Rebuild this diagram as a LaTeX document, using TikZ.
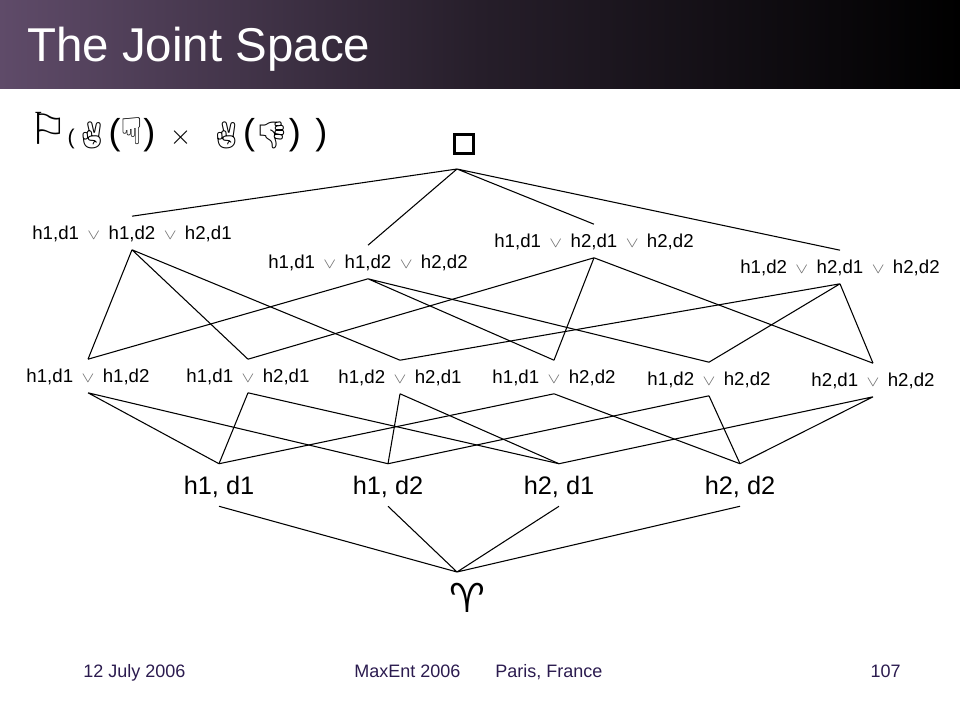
\documentclass[tikz,border=0pt]{standalone}
\usepackage{fontspec}
\usepackage{xcolor}
\usepackage{graphicx}
\usepackage{tikz}
\setmainfont{Liberation Sans}
\newfontfamily\dejavu{DejaVu Sans}
\newfontfamily\dejavub{DejaVu Sans Bold}
\newfontfamily\emoji{Noto Emoji}
\definecolor{bar}{HTML}{5F4B69}
\definecolor{foot}{HTML}{2B1B4F}
\definecolor{orgray}{HTML}{6A6A6A}
\newcommand{\orv}{\hspace{0.45em}{\color{orgray}\scalebox{1}[0.75]{$\vee$}}\hspace{0.45em}}
\tikzset{
  lab/.style={font=\fontsize{14}{16}\selectfont, text height=10.2pt, text depth=0pt, inner xsep=2pt, inner ysep=7.3pt},
  atom/.style={font=\fontsize{19}{22}\selectfont, text height=13.9pt, text depth=0pt, inner xsep=2pt, inner ysep=8.8pt},
  edge/.style={line width=0.8pt},
  foot/.style={text=foot, font=\fontsize{13.5}{16}\selectfont, anchor=base west, inner sep=0pt}
}
\begin{document}
\begin{tikzpicture}[x=0.75pt,y=-0.75pt]
\useasboundingbox (0,0) rectangle (960,720);
\shade[left color=bar, right color=black, middle color=bar!40!black] (0,0) rectangle (960,89);
\node[anchor=base west, inner sep=0pt, text=white, font=\fontsize{35.6}{40}\selectfont] (title) at (27,62) {The Joint Space};

\node[anchor=base west, inner sep=0pt, font=\fontsize{27}{32}\selectfont] (space) at (28,145)
  {{\dejavu\fontsize{33}{33}\selectfont ⚐}{\fontsize{16}{18}\selectfont(}{\emoji\fontsize{20}{20}\selectfont ✌}({\dejavu\fontsize{28}{28}\selectfont ☟})\hspace{0.4em}{\fontsize{20}{24}\selectfont$\times$}\hspace{0.5em}{\emoji\fontsize{20}{20}\selectfont ✌}({\emoji\fontsize{20}{20}\selectfont 👎})\hspace{0.4em})};

\node[draw, line width=2.5pt, minimum size=14pt, inner sep=0pt] (top) at (464,144) {};
\coordinate (topv) at (457,169);

\node[lab] (t1) at (132,233) {h1,d1\orv h1,d2\orv h2,d1};
\node[lab] (t2) at (368,262) {h1,d1\orv h1,d2\orv h2,d2};
\node[lab] (t3) at (594,241) {h1,d1\orv h2,d1\orv h2,d2};
\node[lab] (t4) at (840,267) {h1,d2\orv h2,d1\orv h2,d2};

\node[lab] (p1) at (88,376) {h1,d1\orv h1,d2};
\node[lab] (p2) at (248,376) {h1,d1\orv h2,d1};
\node[lab] (p3) at (400,377) {h1,d2\orv h2,d1};
\node[lab] (p4) at (554,377) {h1,d1\orv h2,d2};
\node[lab] (p5) at (709,379) {h1,d2\orv h2,d2};
\node[lab] (p6) at (873,380) {h2,d1\orv h2,d2};

\node[atom] (a1) at (219,485) {h1, d1};
\node[atom] (a2) at (388,485) {h1, d2};
\node[atom] (a3) at (559,485) {h2, d1};
\node[atom] (a4) at (740,485) {h2, d2};

\node[inner sep=0pt, font=\dejavub\fontsize{30}{30}\selectfont] (bot) at (467,598) {♈};
\coordinate (botv) at (457,572);

\draw[edge] (topv) -- (t1.north) (topv) -- (t2.north) (topv) -- (t3.north) (topv) -- (t4.north);
\draw[edge] (t1.south) -- (p1.north) (t1.south) -- (p2.north) (t1.south) -- (p3.north);
\draw[edge] (t2.south) -- (p1.north) (t2.south) -- (p4.north) (t2.south) -- (p5.north);
\draw[edge] (t3.south) -- (p2.north) (t3.south) -- (p4.north) (t3.south) -- (p6.north);
\draw[edge] (t4.south) -- (p3.north) (t4.south) -- (p5.north) (t4.south) -- (p6.north);
\draw[edge] (p1.south) -- (a1.north) (p1.south) -- (a2.north);
\draw[edge] (p2.south) -- (a1.north) (p2.south) -- (a3.north);
\draw[edge] (p3.south) -- (a2.north) (p3.south) -- (a3.north);
\draw[edge] (p4.south) -- (a1.north) (p4.south) -- (a4.north);
\draw[edge] (p5.south) -- (a2.north) (p5.south) -- (a4.north);
\draw[edge] (p6.south) -- (a3.north) (p6.south) -- (a4.north);
\draw[edge] (a1.south) -- (botv) (a2.south) -- (botv) (a3.south) -- (botv) (a4.south) -- (botv);

\node[foot] (date) at (83,677) {12 July 2006};
\node[foot] (conf) at (354,677) {MaxEnt 2006};
\node[foot] (place) at (495,677) {Paris, France};
\node[foot, anchor=base east] (page) at (901,677) {107};
\end{tikzpicture}
\end{document}
